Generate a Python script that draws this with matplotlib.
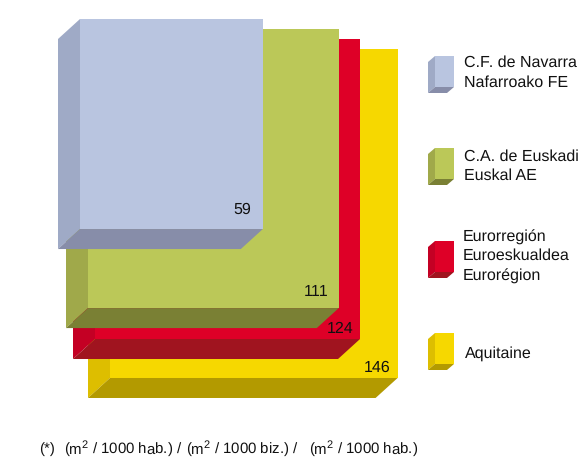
""" floor area per 1000 inhabitants, drawn as nested 3d squares """

import numpy as np
import matplotlib
matplotlib.use('Agg')
import matplotlib.pyplot as plt
from matplotlib.patches import Polygon

regions = ['C.F. de Navarra\nNafarroako FE', 'C.A. de Euskadi\nEuskal AE',
           'Eurorregión\nEuroeskualdea\nEurorégion', 'Aquitaine']
values = [59, 111, 124, 146]
footnote = ['(*)', '(m$^{2}$ / 1000 hab.) /', '(m$^{2}$ / 1000 biz.) /', '(m$^{2}$ / 1000 hab.)']

front_colors = ['#B9C5E0', '#BBC858', '#DE0027', '#F6D800']
side_colors = ['#9FAAC6', '#A0A94A', '#C40024', '#DDBE00']
bottom_colors = ['#878DA9', '#7A8034', '#A0141F', '#B39A00']

# layout (pixels)
lefts = [80, 88, 95, 110]
tops = [19, 29, 39, 49]
aspects = [1.149, 1.113, 1.132, 1.144]
label_offsets = [(21, 19), (23, 16), (20, 10), (20, 10)]
legend_tops = [56, 148, 241, 333]
legend_text = [(464, [63, 83]), (464, [157, 176]), (463, [237, 256, 276]), (465, [354])]
footnote_x = [39, 64, 186, 309]
scale = 23.8
font_size = 11.2

plt.rcParams['font.family'] = ['Liberation Sans', 'DejaVu Sans']
plt.rcParams['mathtext.fontset'] = 'custom'
plt.rcParams['mathtext.rm'] = 'Liberation Sans'
plt.rcParams['mathtext.default'] = 'regular'
plt.rcParams['text.hinting'] = 'no_hinting'
plt.rcParams['text.hinting_factor'] = 1


def box(ax, left, top, right, bottom, dx, dy, i):
    ax.add_patch(Polygon([(left, top), (right, top), (right, bottom), (left, bottom)],
                         fc=front_colors[i], ec='none'))
    ax.add_patch(Polygon([(left, top), (left - dx, top + dy), (left - dx, bottom + dy), (left, bottom)],
                         fc=side_colors[i], ec='none'))
    ax.add_patch(Polygon([(left, bottom), (right, bottom), (right - dx, bottom + dy), (left - dx, bottom + dy)],
                         fc=bottom_colors[i], ec='none'))


fig = plt.figure(figsize=(5.86, 4.58), dpi=100)
ax = fig.add_axes([0, 0, 1, 1])
ax.set_xlim(0, 586)
ax.set_ylim(458, 0)
ax.axis('off')

# area of each square goes with the value, biggest one at the back
sides = scale * np.sqrt(values)
for i in range(len(values) - 1, -1, -1):
    right = lefts[i] + sides[i]
    bottom = tops[i] + sides[i] * aspects[i]
    box(ax, lefts[i], tops[i], right, bottom, 22, 20, i)
    ax.text(right - label_offsets[i][0], bottom - label_offsets[i][1], str(values[i]),
            fontsize=font_size, ha='center', va='center', color='#111111')

for i in range(len(regions)):
    box(ax, 435, legend_tops[i], 454, legend_tops[i] + 31, 7, 6, i)
    x, ys = legend_text[i]
    for line, y in zip(regions[i].split('\n'), ys):
        ax.text(x, y, line, fontsize=font_size, ha='left', va='center', color='#111111')

for part, x in zip(footnote, footnote_x):
    ax.text(x, 449, part, fontsize=11.1, ha='left', va='center', color='#111111')

plt.savefig('out.png', dpi=100)
